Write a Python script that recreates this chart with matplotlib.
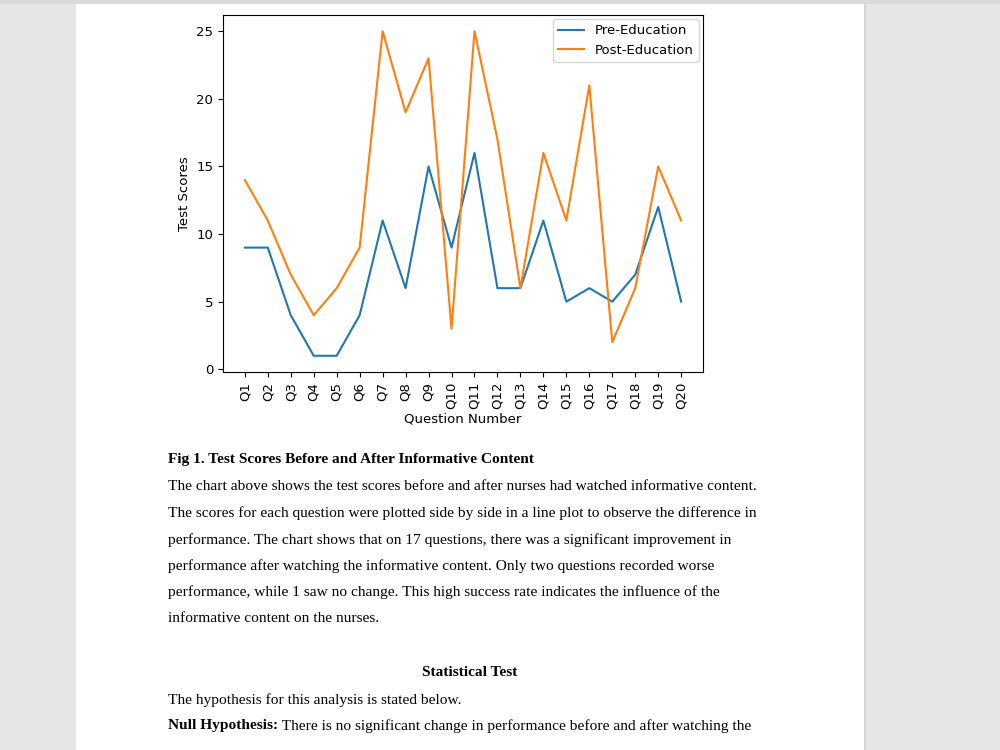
import matplotlib.pyplot as plt
from matplotlib.patches import Rectangle

questions = ["Q%d" % i for i in range(1, 21)]
pre_scores = [9, 9, 4, 1, 1, 4, 11, 6, 15, 9, 16, 6, 6, 11, 5, 6, 5, 7, 12, 5]
post_scores = [14, 11, 7, 4, 6, 9, 25, 19, 23, 3, 25, 17, 6, 16, 11, 21, 2, 6, 15, 11]

caption = "Fig 1. Test Scores Before and After Informative Content"
body = [
    "The chart above shows the test scores before and after nurses had watched informative content.",
    "The scores for each question were plotted side by side in a line plot to observe the difference in",
    "performance. The chart shows that on 17 questions, there was a significant improvement in",
    "performance after watching the informative content. Only two questions recorded worse",
    "performance, while 1 saw no change. This high success rate indicates the influence of the",
    "informative content on the nurses.",
]
heading = "Statistical Test"
hyp_line = "The hypothesis for this analysis is stated below."
null_bold = "Null Hypothesis:"
null_rest = " There is no significant change in performance before and after watching the"
last_line = "resources."

W, H = 1000, 750
fig = plt.figure(figsize=(10, 7.5), dpi=100)
fig.patch.set_facecolor("#e6e6e6")

# page
fig.patches.append(Rectangle((76 / W, 0), (864 - 76) / W, 1, transform=fig.transFigure,
                             facecolor="white", edgecolor="none", zorder=0))
fig.patches.append(Rectangle((864 / W, 0), 1.5 / W, 1, transform=fig.transFigure,
                             facecolor="#d2d2d2", edgecolor="none", zorder=0))
fig.patches.append(Rectangle((0, 1 - 4 / H), 1, 4 / H, transform=fig.transFigure,
                             facecolor="#dadada", edgecolor="none", zorder=1))

# chart
ax = fig.add_axes([223 / W, 1 - 372 / H, (703 - 223) / W, (372 - 15) / H])
ax.set_zorder(5)
ax.plot(questions, pre_scores, color="#1f77b4", lw=1.5, label="Pre-Education")
ax.plot(questions, post_scores, color="#ff7f0e", lw=1.5, label="Post-Education")
ax.set_xlabel("Question Number", fontsize=9.5, labelpad=2)
ax.set_ylabel("Test Scores", fontsize=9.5)
ax.tick_params(labelsize=9.5)
for t in ax.get_xticklabels():
    t.set_rotation(90)
ax.legend(loc="upper right", fontsize=9.5, borderaxespad=0.3)

serif = "Liberation Serif"
fs = 11.1
x0 = 168 / W


def ypos(py):
    return 1 - (py + 2) / H


fig.text(x0, ypos(458), caption, fontsize=fs, family=serif, weight="bold", va="center")
for i, line in enumerate(body):
    fig.text(x0, ypos(485 + i * 26.4), line, fontsize=fs, family=serif, va="center")
fig.text(470 / W, ypos(671), heading, fontsize=fs, family=serif, weight="bold",
         va="center", ha="center")
fig.text(x0, ypos(698), hyp_line, fontsize=fs, family=serif, va="center")
tb = fig.text(x0, ypos(724), null_bold, fontsize=fs, family=serif, weight="bold", va="center")
fig.canvas.draw()
bb = tb.get_window_extent()
fig.text(bb.x1 / W, ypos(724), null_rest, fontsize=fs, family=serif, va="center")
fig.text(x0, ypos(752), last_line, fontsize=fs, family=serif, va="center")

fig.savefig("out.png", dpi=100, facecolor=fig.get_facecolor())
